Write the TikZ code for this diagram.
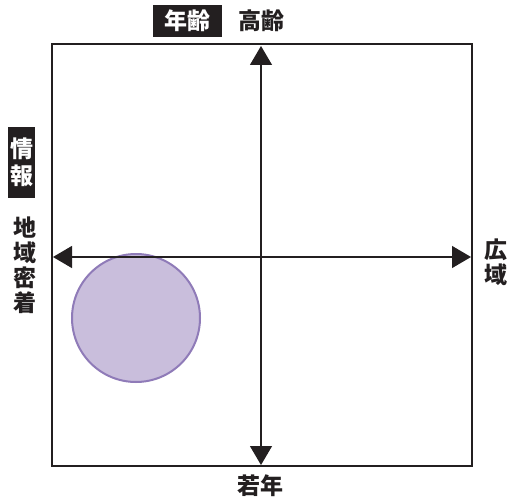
\documentclass[tikz,border=0pt]{standalone}
\usepackage{fontspec}
\newfontfamily\jp{Noto Sans CJK JP}
\usetikzlibrary{arrows.meta}
\definecolor{circfill}{HTML}{C9BEDC}
\definecolor{circline}{HTML}{8F7BB8}
\definecolor{ink}{HTML}{231F20}
\begin{document}
\begin{tikzpicture}[x=1pt,y=-1pt,
  lbl/.style={font=\jp\bfseries\fontsize{23}{25}\selectfont, inner sep=0pt, text=ink, align=center},
  tag/.style={lbl, fill=ink, text=white},
  axis/.style={line width=1.2pt, draw=ink, {Triangle[length=19pt,width=22pt]}-{Triangle[length=19pt,width=22pt]}}]
\useasboundingbox (0,0) rectangle (511,500);
\fill[white] (0,0) rectangle (511,500);
\node[circle, minimum size=128pt, fill=circfill, draw=circline, line width=2pt, inner sep=0pt] (zone) at (136,318) {};
\coordinate (top) at (261,46);
\coordinate (bottom) at (261,465);
\coordinate (left) at (53,257);
\coordinate (right) at (471,257);
\draw[axis] (top) -- (bottom);
\draw[axis] (left) -- (right);
\node[draw=ink, line width=2.5pt, minimum width=420pt, minimum height=422pt, inner sep=0pt] (frame) at (262,255) {};
\node[tag, minimum width=69pt, minimum height=32pt] (agetag) at (187.5,21) {年齢};
\node[lbl] (old) at (261.5,21) {高齢};
\node[lbl] (young) at (260,486) {若年};
\node[tag, font=\jp\bfseries\fontsize{23}{27}\selectfont, minimum width=27pt, minimum height=71pt] (infotag) at (21.5,162.5) {情\\報};
\node[lbl] (local) at (25,265) {地\\域\\密\\着};
\node[lbl] (wide) at (496,262) {広\\域};
\end{tikzpicture}
\end{document}
